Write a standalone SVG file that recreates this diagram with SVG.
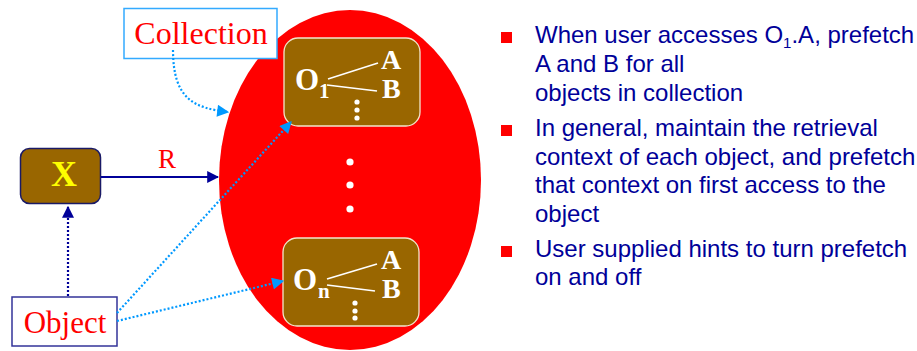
<svg xmlns="http://www.w3.org/2000/svg" width="917" height="351" viewBox="0 0 917 351">
<defs>
<style>
.serif{font-family:"Liberation Serif","Times New Roman",serif}
.obox{fill:#996600;stroke:#f2e6cc;stroke-width:1.3}
.wt{fill:#ffffff;font-weight:bold}
.wl{stroke:#ffffff;stroke-width:1.6}
.dot{fill:#ffffff}
.lbl{fill:#ff0000}
.bt{font-family:"Liberation Sans",Arial,sans-serif;font-size:24px;fill:#000099}
.bul{fill:#ff0000}
.lb{stroke:#0099ff;stroke-width:2.2;fill:none;stroke-dasharray:2 2}
</style>
<marker id="ab" viewBox="0 0 10 10" refX="9" refY="5" markerWidth="14" markerHeight="12" orient="auto" markerUnits="userSpaceOnUse">
<path d="M0,0 L10,5 L0,10 Z" fill="#0099ff"/>
</marker>
<marker id="an" viewBox="0 0 10 10" refX="9" refY="5" markerWidth="12" markerHeight="12" orient="auto" markerUnits="userSpaceOnUse">
<path d="M0,0 L10,5 L0,10 Z" fill="#000099"/>
</marker>
</defs>
<rect width="917" height="351" fill="#ffffff"/>

<g id="collection-ellipse">
<ellipse cx="350" cy="180" rx="131" ry="170" fill="#ff0000"/>
<circle class="dot" cx="350" cy="162" r="3.6"/>
<circle class="dot" cx="350" cy="185" r="3.6"/>
<circle class="dot" cx="350" cy="209" r="3.6"/>
</g>

<g id="node-o1">
<rect class="obox" x="284" y="38" width="136" height="88" rx="14"/>
<text class="serif wt" x="295" y="90" font-size="31">O</text>
<text class="serif wt" x="319" y="98" font-size="21">1</text>
<text class="serif wt" x="381" y="69" font-size="28">A</text>
<text class="serif wt" x="382" y="98" font-size="28">B</text>
<line class="wl" x1="328" y1="79" x2="378" y2="63"/>
<line class="wl" x1="327" y1="85" x2="377" y2="91"/>
<circle class="dot" cx="357" cy="102" r="2.6"/>
<circle class="dot" cx="357" cy="110" r="2.6"/>
<circle class="dot" cx="357" cy="118" r="2.6"/>
</g>

<g id="node-on">
<rect class="obox" x="283" y="238" width="136" height="88" rx="14"/>
<text class="serif wt" x="293" y="290" font-size="31">O</text>
<text class="serif wt" x="318" y="298" font-size="21">n</text>
<text class="serif wt" x="381" y="269" font-size="28">A</text>
<text class="serif wt" x="382" y="298" font-size="28">B</text>
<line class="wl" x1="327" y1="279" x2="377" y2="264"/>
<line class="wl" x1="327" y1="285" x2="375" y2="291"/>
<circle class="dot" cx="355" cy="303" r="2.6"/>
<circle class="dot" cx="355" cy="311" r="2.6"/>
<circle class="dot" cx="355" cy="318" r="2.6"/>
</g>

<g id="node-x">
<rect x="20.5" y="148.5" width="80" height="55" rx="9" fill="#996600" stroke="#1a1a66" stroke-width="1.5"/>
<text class="serif" x="64" y="186" font-size="36" font-weight="bold" fill="#ffff00" text-anchor="middle">X</text>
</g>

<g id="node-collection-label">
<rect x="124" y="8.5" width="153" height="50" fill="#ffffff" stroke="#33aaff" stroke-width="1.5"/>
<text class="serif lbl" x="201" y="44" font-size="32" text-anchor="middle">Collection</text>
</g>

<g id="node-object-label">
<rect x="12" y="297" width="105" height="49" fill="#ffffff" stroke="#333399" stroke-width="1.5"/>
<text class="serif lbl" x="65" y="333" font-size="31" text-anchor="middle">Object</text>
</g>

<g id="connectors">
<line x1="101" y1="177" x2="218" y2="177" stroke="#000099" stroke-width="2" marker-end="url(#an)"/>
<text class="serif" x="167" y="168" font-size="27" fill="#ff0000" text-anchor="middle">R</text>
<line x1="68" y1="296" x2="68" y2="207" stroke="#000099" stroke-width="2.2" stroke-dasharray="2 2" marker-end="url(#an)"/>
<path class="lb" d="M173,50 C173,100 195,108 228,112" marker-end="url(#ab)"/>
<line class="lb" x1="117" y1="313" x2="291" y2="122" marker-end="url(#ab)"/>
<line class="lb" x1="117" y1="321" x2="283" y2="281" marker-end="url(#ab)"/>
</g>

<g id="bullets">
<rect class="bul" x="501" y="32" width="11" height="11"/>
<rect class="bul" x="501" y="125" width="11" height="11"/>
<rect class="bul" x="501" y="246" width="11" height="11"/>
<text class="bt" x="535" y="43">When user accesses O<tspan font-size="15" dy="5">1</tspan><tspan dy="-5">.A, prefetch</tspan></text>
<text class="bt" x="535" y="72">A and B for all</text>
<text class="bt" x="535" y="101">objects in collection</text>
<text class="bt" x="535" y="136">In general, maintain the retrieval</text>
<text class="bt" x="535" y="165">context of each object, and prefetch</text>
<text class="bt" x="535" y="193">that context on first access to the</text>
<text class="bt" x="535" y="222">object</text>
<text class="bt" x="535" y="257">User supplied hints to turn prefetch</text>
<text class="bt" x="535" y="285">on and off</text>
</g>
</svg>
